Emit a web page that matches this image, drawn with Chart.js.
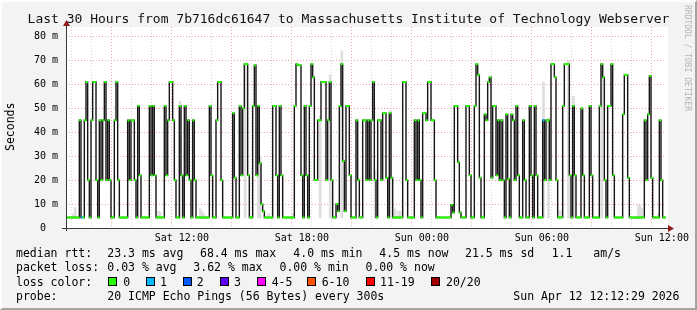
<!DOCTYPE html>
<html><head><meta charset="utf-8">
<script src="https://cdn.jsdelivr.net/npm/chart.js@4.4.1/dist/chart.umd.min.js"></script>
<style>
html,body{margin:0;padding:0;}
body{width:697px;height:310px;overflow:hidden;background:#f3f3f3;position:relative;font-family:"DejaVu Sans Mono",monospace;color:#000;}
#frame{position:absolute;left:0;top:0;width:693px;height:306px;border-top:2px solid #fdfdfd;border-left:2px solid #fdfdfd;border-right:2px solid #a4a4a4;border-bottom:2px solid #a4a4a4;pointer-events:none;}
#wrap{position:absolute;left:0;top:0;width:697px;height:310px;}
.t{position:absolute;white-space:pre;font-size:11.5px;line-height:13px;}
.title{position:absolute;left:0;width:697px;text-align:center;top:11px;font-size:13px;line-height:15px;white-space:pre;color:#111;}
.box{position:absolute;width:7px;height:7px;border:1px solid #000;}
.vert{position:absolute;white-space:pre;transform-origin:0 0;}
</style></head>
<body>
<div id="wrap"><canvas id="c" width="697" height="310"></canvas></div>
<div class="title">Last 30 Hours from 7b716dc61647 to Massachusetts Institute of Technology Webserver</div>
<div class="vert" style="left:4px;top:151px;transform:rotate(-90deg);font-size:11.5px;line-height:13px;">Seconds</div>
<div class="vert" style="left:692px;top:5px;transform:rotate(90deg);font-size:8px;line-height:9px;color:#b4b4b4;">RRDTOOL / TOBI OETIKER</div>
<div id="legend"></div>
<div id="frame"></div>
<script>
// ---- data (median RTT in ms, one value per 5-minute step, oldest first) ----
const medianMs = [
4.4,4.4,4.4,4.4,4.4,4.4,4.4,4.4,45,4.4,
4.4,45,61,20,4.4,45,61,61,20,4.4,
45,20,45,61,20,45,20,4.4,4.4,45,
61,20,4.4,4.4,4.4,4.4,4.4,45,20,45,
45,20,4.4,51,22,4.4,4.4,4.4,4.4,4.4,
51,22,51,22,4.4,4.4,4.4,4.4,4.4,51,
22,45,61,61,45,20,4.4,4.4,51,22,
4.4,51,22,45,20,4.4,45,20,4.4,4.4,
4.4,4.4,4.4,4.4,4.4,4.4,51,22,4.4,4.4,
45,61,61,20,4.4,4.4,4.4,4.4,4.4,4.4,
48,21,4.4,4.4,51,22,50,68.5,68.5,22,
4.4,4.4,51,68,22,51,27,10,7,4.4,
4.4,4.4,4.4,4.4,51,51,22,4.4,51,22,
4.4,4.4,4.4,4.4,4.4,4.4,4.4,51,68.5,68,
68,22,4.4,51,22,4.4,51,68.5,63,20,
20,45,45,61,61,61,20,45,61,20,
4.4,4.4,10,7,51,68.5,28,7,51,51,
22,4.4,4.4,4.4,45,20,4.4,4.4,45,45,
20,45,20,45,61,20,4.4,45,45,20,
48,48,21,4.4,48,21,4.4,4.4,4.4,4.4,
4.4,4.4,61,61,20,4.4,4.4,4.4,4.4,45,
20,45,20,4.4,48,48,45,61,61,45,
45,20,4.4,4.4,4.4,4.4,4.4,4.4,4.4,4.4,
4.4,9.7,6.5,51,51,27.5,6.5,4.4,4.4,4.4,
51,51,22,4.4,4.4,51,68.5,64,21,4.4,
4.4,47.5,45,61,63,21,51,51,22,45,
20,45,20,4.4,47.5,20.5,4.4,47.5,45,20,
51,22,4.4,4.4,45,20,4.4,4.4,51,22,
4.4,51,22,4.4,4.4,4.4,45,20,45,45,
20,68.5,68.5,63,20,4.4,4.4,4.4,51,68.5,
68.5,68.5,22,4.4,51,22,4.4,4.4,4.4,50,
22,4.4,4.4,4.4,51,22,4.4,4.4,4.4,4.4,
51,68.5,63,20,4.4,51,51,68.5,22,4.4,
4.4,4.4,4.4,4.4,47.5,64,64,21,4.4,4.4,
4.4,4.4,4.4,4.4,4.4,4.4,4.4,45,20,47.5,
63.5,21,4.4,4.4,4.4,4.4,45,20,4.4,4.4
];
// steps where one of 20 pings was lost
const lossOneIdx = [9, 286];
// smoke (spread of the 20 pings) at selected steps
const smokeIdx = [4, 5, 55, 56, 68, 80, 81, 82, 107, 115, 116, 121, 136, 152, 158, 165, 185, 194, 197, 199, 200, 286, 289, 296, 301, 304, 321, 343, 344, 345, 355];
const smokeTop = [6, 8.5, 7, 6.5, 53, 8, 7, 6, 69, 33, 30, 6, 6, 47, 64, 74, 24, 49, 8, 7, 7, 61, 46, 7.5, 70, 55, 69, 9.7, 9.5, 8, 6];
// x axis labels (hours since Sat 00:00)
const labelHours = [12, 18, 24, 30, 36];
const labelTexts = ['Sat 12:00', 'Sat 18:00', 'Sun 00:00', 'Sun 06:00', 'Sun 12:00'];
// y axis labels
const yLabelValues = [0, 10, 20, 30, 40, 50, 60, 70, 80];
const yLabelTexts = ['0  ', '10 m', '20 m', '30 m', '40 m', '50 m', '60 m', '70 m', '80 m'];
// legend
const statRows = [
  ['median rtt:', '23.3 ms avg', '68.4 ms max', '4.0 ms min', '4.5 ms now', '21.5 ms sd', '1.1', 'am/s'],
  ['packet loss:', '0.03 % avg', '3.62 % max', '0.00 % min', '0.00 % now']
];
const lossLabels = ['0', '1', '2', '3', '4-5', '6-10', '11-19', '20/20'];
const lossColors = ['#26ff00', '#00b8ff', '#0059ff', '#5e00ff', '#ff00ff', '#ff5500', '#ff0000', '#a00000'];
const probeText = '20 ICMP Echo Pings (56 Bytes) every 300s';
const stampText = 'Sun Apr 12 12:12:29 2026';

// ---- time axis ----
const startHour = 6 + 12/60 + 29/3600;   // Sat 06:12:29
const stepHour = 5/60;                    // 300 s
const spanHours = 30;

// ---- legend (html text) ----
const L = document.getElementById('legend');
function put(txt, x, y) {
  const d = document.createElement('div');
  d.className = 't'; d.textContent = txt;
  d.style.left = x + 'px'; d.style.top = y + 'px';
  L.appendChild(d);
}
const row1X = [16, 107.3, 200, 293.3, 379.3, 465, 551.7, 593.3];
statRows[0].forEach((s, i) => put(s, row1X[i], 247));
const row2X = [16, 107.3, 193.3, 279.5, 365.5];
statRows[1].forEach((s, i) => put(s, row2X[i], 261.3));
put('loss color:', 16, 275.6);
const boxX = [108.3, 145.7, 182.7, 220, 256.7, 306.7, 366, 430.7];
const lblX = [123.3, 160, 196.7, 234, 271.7, 321.7, 380, 446];
lossLabels.forEach((s, i) => {
  const b = document.createElement('div');
  b.className = 'box'; b.style.left = boxX[i] + 'px'; b.style.top = '277px';
  b.style.background = lossColors[i];
  L.appendChild(b);
  put(s, lblX[i], 275.6);
});
put('probe:', 16, 289.9);
put(probeText, 107.3, 289.9);
put(stampText, 513.3, 289.9);

// ---- chart data built from arrays ----
const linePts = medianMs.map((v, i) => ({x: startHour + i*stepHour, y: v}));
linePts.push({x: startHour + medianMs.length*stepHour, y: medianMs[medianMs.length-1]});
const markPts = medianMs.map((v, i) => ({x: startHour + (i+0.5)*stepHour, y: v}));
const markColors = medianMs.map((v, i) => lossOneIdx.includes(i) ? lossColors[1] : lossColors[0]);
const smokePts = smokeIdx.map((k, j) => ({x: startHour + (k+0.5)*stepHour, y: [Math.min(medianMs[k], 4.2), smokeTop[j]]}));

const RED = '#eba3a3', GREY = '#d4d4d4';
const plotPlugin = {
  id: 'rrd',
  beforeDraw(chart) {
    const {ctx, chartArea: a} = chart;
    ctx.save();
    ctx.fillStyle = '#ffffff';
    ctx.fillRect(a.left, a.top, a.right - a.left + 2, a.bottom - a.top);
    ctx.restore();
  },
  afterDraw(chart) {
    const {ctx, chartArea: a} = chart;
    ctx.save();
    ctx.strokeStyle = '#3a3a3a'; ctx.lineWidth = 1;
    const yb = Math.round(a.bottom) + 0.5, xl = Math.round(a.left) + 0.5;
    ctx.beginPath(); ctx.moveTo(a.left - 4, yb); ctx.lineTo(a.right + 4, yb); ctx.stroke();
    ctx.beginPath(); ctx.moveTo(xl, a.bottom + 3); ctx.lineTo(xl, a.top - 4); ctx.stroke();
    ctx.fillStyle = '#8e1b1b';
    ctx.beginPath(); ctx.moveTo(a.right + 2, yb - 3.5); ctx.lineTo(a.right + 8, yb); ctx.lineTo(a.right + 2, yb + 3.5); ctx.closePath(); ctx.fill();
    ctx.beginPath(); ctx.moveTo(xl - 3.5, a.top - 1); ctx.lineTo(xl, a.top - 7); ctx.lineTo(xl + 3.5, a.top - 1); ctx.closePath(); ctx.fill();
    ctx.restore();
  }
};

new Chart(document.getElementById('c'), {
  type: 'line',
  data: {
    datasets: [
      {type: 'bar', data: smokePts, backgroundColor: '#dedede', borderWidth: 0, barThickness: 2, order: 3},
      {type: 'line', data: linePts, stepped: true, borderColor: '#161616', borderWidth: 1.4, pointRadius: 0, fill: false, order: 2},
      {type: 'line', data: markPts, showLine: false, pointStyle: 'line', pointRadius: 1.1, pointBorderWidth: 2,
       pointBorderColor: markColors, pointBackgroundColor: markColors, order: 1}
    ]
  },
  options: {
    responsive: false, animation: false, events: [],
    layout: {padding: {top: 27, right: 31, left: 0, bottom: 0}},
    plugins: {legend: {display: false}, tooltip: {enabled: false}},
    scales: {
      x: {
        type: 'linear', min: startHour, max: startHour + spanHours, offset: false,
        afterBuildTicks(s) {
          const t = [];
          for (let h = Math.ceil(s.min); h <= s.max; h++) t.push({value: h});
          s.ticks = t;
        },
        afterFit(s) { s.height = 82; },
        grid: {color: c => (c.tick && c.tick.value % 3 === 0) ? RED : GREY, lineWidth: 1, drawTicks: false},
        border: {display: false, dash: [1, 2]},
        ticks: {
          autoSkip: false, maxRotation: 0, minRotation: 0, padding: 4, color: '#000',
          font: {family: 'DejaVu Sans Mono', size: 10},
          callback: v => { const k = labelHours.indexOf(Math.round(v)); return k >= 0 ? labelTexts[k] : ''; }
        }
      },
      y: {
        type: 'linear', min: 0, max: 84,
        afterBuildTicks(s) {
          const t = [];
          for (let v = 0; v <= 80; v += 5) t.push({value: v});
          s.ticks = t;
        },
        afterFit(s) { s.width = 66; },
        grid: {color: c => (c.tick && c.tick.value % 10 === 0) ? RED : GREY, lineWidth: 1, drawTicks: false},
        border: {display: false, dash: [1, 2]},
        ticks: {
          padding: 8, color: '#000',
          font: {family: 'DejaVu Sans Mono', size: 10},
          callback: v => { const k = yLabelValues.indexOf(v); return k >= 0 ? yLabelTexts[k] : ''; }
        }
      }
    }
  },
  plugins: [plotPlugin]
});
</script>
</body></html>
